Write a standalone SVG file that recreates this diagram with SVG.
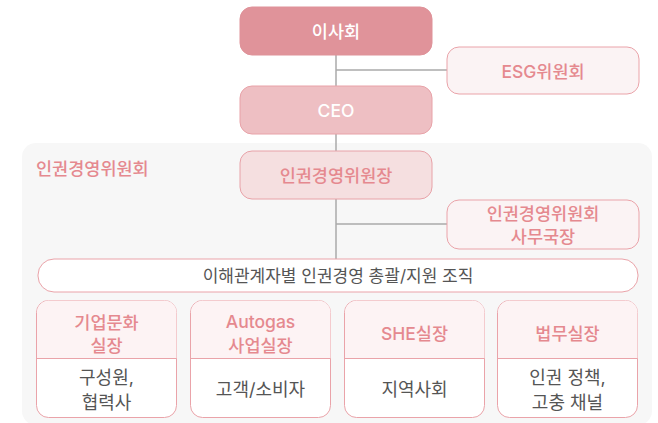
<svg xmlns="http://www.w3.org/2000/svg" width="658" height="423" viewBox="0 0 658 423">
<style>
text{font-family:Inter,"Noto Sans CJK KR",sans-serif;text-anchor:middle;dominant-baseline:central;font-weight:500}
.pk{fill:#e5898f;font-size:17.5px}
.wt{fill:#ffffff;font-size:17.5px}
.gy{fill:#555555;font-size:17px;font-weight:400}
.bd{fill:#555555;font-size:18px;font-weight:400}
.lt{fill:#fbf3f4;stroke:#eaa3a9;stroke-width:1}
.cn{stroke:#aaaaaa;stroke-width:1.5;fill:none}
.card{fill:#ffffff;stroke:#eaa3a9;stroke-width:1}
</style>
<rect x="22" y="143" width="630" height="282" rx="14" fill="#f7f7f7"/>
<text x="36" y="168" class="pk" style="text-anchor:start">인권경영위원회</text>
<g id="connectors">
<path class="cn" d="M336 55V259M336 70H447M336 224H447"/>
</g>
<g id="board">
<rect x="240" y="7" width="192" height="48" rx="12" fill="#e0939a" stroke="#df9299"/>
<text x="336" y="31" class="wt">이사회</text>
</g>
<g id="esg">
<rect x="447" y="47" width="192" height="47" rx="12" class="lt"/>
<text x="543" y="71" class="pk">ESG위원회</text>
</g>
<g id="ceo">
<rect x="240" y="86" width="192" height="48" rx="12" fill="#eebfc3" stroke="#e8a2a8"/>
<text x="336" y="110" class="wt">CEO</text>
</g>
<g id="chair">
<rect x="240" y="151" width="192" height="48" rx="12" fill="#f5dfe0" stroke="#e8a2a8"/>
<text x="336" y="175" class="pk">인권경영위원장</text>
</g>
<g id="secretary">
<rect x="447" y="200" width="192" height="49" rx="12" class="lt"/>
<text x="543" y="213" class="pk">인권경영위원회</text>
<text x="543" y="236" class="pk">사무국장</text>
</g>
<g id="support">
<rect x="38" y="259" width="600" height="33" rx="16" fill="#ffffff" stroke="#eaa3a9"/>
<text x="338" y="275.5" class="gy">이해관계자별 인권경영 총괄/지원 조직</text>
</g>
<g id="culture">
<rect x="36.5" y="300.5" width="140" height="117" rx="12" class="card"/>
<path d="M37 358.5V312.5a12 12 0 0 1 12-12H164.5a12 12 0 0 1 12 12V358.5Z" fill="#fdf3f4"/>
<path d="M36.5 358.5H176.5" stroke="#eaa3a9"/>
<text x="106.5" y="322" class="pk">기업문화</text>
<text x="106.5" y="345" class="pk">실장</text>
<text x="106.5" y="377" class="bd">구성원,</text>
<text x="106.5" y="402" class="bd">협력사</text>
</g>
<g id="autogas">
<rect x="190.5" y="300.5" width="140" height="117" rx="12" class="card"/>
<path d="M191 358.5V312.5a12 12 0 0 1 12-12H318.5a12 12 0 0 1 12 12V358.5Z" fill="#fdf3f4"/>
<path d="M190.5 358.5H330.5" stroke="#eaa3a9"/>
<text x="260.5" y="321" class="pk">Autogas</text>
<text x="260.5" y="345" class="pk">사업실장</text>
<text x="260.5" y="389" class="bd">고객/소비자</text>
</g>
<g id="she">
<rect x="344.5" y="300.5" width="140" height="117" rx="12" class="card"/>
<path d="M345 358.5V312.5a12 12 0 0 1 12-12H472.5a12 12 0 0 1 12 12V358.5Z" fill="#fdf3f4"/>
<path d="M344.5 358.5H484.5" stroke="#eaa3a9"/>
<text x="414.5" y="333" class="pk">SHE실장</text>
<text x="414.5" y="389" class="bd">지역사회</text>
</g>
<g id="legal">
<rect x="497.5" y="300.5" width="140" height="117" rx="12" class="card"/>
<path d="M498 358.5V312.5a12 12 0 0 1 12-12H625.5a12 12 0 0 1 12 12V358.5Z" fill="#fdf3f4"/>
<path d="M497.5 358.5H637.5" stroke="#eaa3a9"/>
<text x="567.5" y="333" class="pk">법무실장</text>
<text x="567.5" y="377" class="bd">인권 정책,</text>
<text x="567.5" y="402" class="bd">고충 채널</text>
</g>
</svg>
